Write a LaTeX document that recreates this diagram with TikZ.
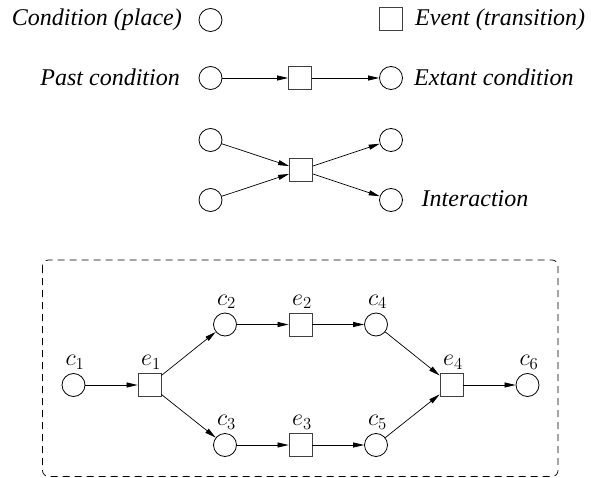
\documentclass[tikz,border=0pt]{standalone}
\usepackage{fix-cm}
\usepackage{fontspec}
\setmainfont{Liberation Serif}
\usetikzlibrary{arrows.meta}
\begin{document}
\begin{tikzpicture}[x=1pt,y=-1pt,
  place/.style={circle,draw,line width=0.8pt,minimum size=23pt,inner sep=0pt},
  trans/.style={rectangle,draw=black!75,line width=0.8pt,minimum size=23pt,inner sep=0pt},
  arc/.style={line width=0.7pt,-{Triangle[length=11pt,width=5pt]}},
  txt/.style={font=\fontsize{24}{28}\selectfont\itshape,inner sep=0pt},
  lab/.style={font=\fontsize{24}{28}\selectfont,inner sep=0pt,anchor=base}]
\useasboundingbox (0,0) rectangle (591,478);
% legend
\node[place] (cp) at (210.5,20) {};
\node[txt,anchor=base east] (cpt) at (182,26) {Condition (place)};
\node[trans] (ev) at (391,19) {};
\node[txt,anchor=base west] (evt) at (415,26) {Event (transition)};
% past/extant
\node[place] (pc) at (210.5,78) {};
\node[trans] (pe) at (300,78) {};
\node[place] (ec) at (391,78) {};
\node[txt,anchor=base east] (pct) at (180,85.5) {Past condition};
\node[txt,anchor=base west] (ect) at (414,85.5) {Extant condition};
\draw[arc] (pc) -- (pe);
\draw[arc] (pe) -- (ec);
% interaction
\node[place] (i1) at (210.5,140) {};
\node[place] (i2) at (210.5,200) {};
\node[trans] (ie) at (301,170) {};
\node[place] (i3) at (391,140) {};
\node[place] (i4) at (391,200) {};
\node[txt,anchor=base west] (it) at (421.5,207) {Interaction};
\draw[arc] (i1) -- (ie);
\draw[arc] (i2) -- (ie);
\draw[arc] (ie) -- (i3);
\draw[arc] (ie) -- (i4);
% dashed box
\draw[dash pattern=on 7pt off 5pt,line width=0.7pt,rounded corners=6pt] (42.5,260) rectangle (558,476.5);
% net
\node[place] (c1) at (73.5,385) {};
\node[trans] (e1) at (149.5,385) {};
\node[place] (c2) at (225,324.5) {};
\node[trans] (e2) at (300.5,324.5) {};
\node[place] (c3) at (225,445) {};
\node[trans] (e3) at (300.5,445) {};
\node[place] (c4) at (376,324.5) {};
\node[place] (c5) at (376,445) {};
\node[trans] (e4) at (451.5,385) {};
\node[place] (c6) at (527.5,385) {};
\node[lab] (lc1) at (75,365.5) {$c_1$};
\node[lab] (le1) at (151,365.5) {$e_1$};
\node[lab] (lc2) at (226.5,305) {$c_2$};
\node[lab] (le2) at (302,305) {$e_2$};
\node[lab] (lc3) at (226.5,425.5) {$c_3$};
\node[lab] (le3) at (302,425.5) {$e_3$};
\node[lab] (lc4) at (377.5,305) {$c_4$};
\node[lab] (lc5) at (377.5,425.5) {$c_5$};
\node[lab] (le4) at (453,365.5) {$e_4$};
\node[lab] (lc6) at (529,365.5) {$c_6$};
\draw[arc] (c1) -- (e1);
\draw[arc] (e1) -- (c2);
\draw[arc] (e1) -- (c3);
\draw[arc] (c2) -- (e2);
\draw[arc] (c3) -- (e3);
\draw[arc] (e2) -- (c4);
\draw[arc] (e3) -- (c5);
\draw[arc] (c4) -- (e4);
\draw[arc] (c5) -- (e4);
\draw[arc] (e4) -- (c6);
\end{tikzpicture}
\end{document}
